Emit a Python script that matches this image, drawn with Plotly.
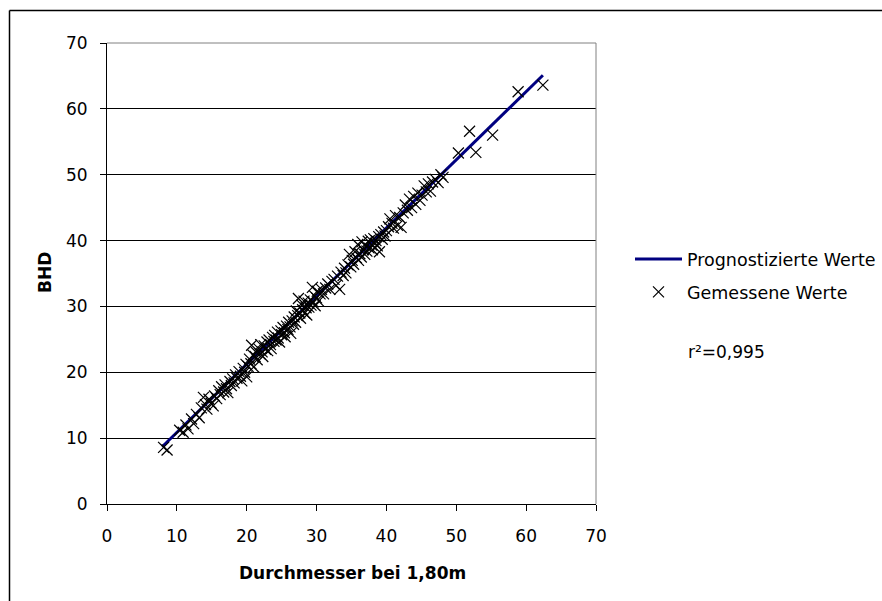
import plotly.graph_objects as go

# ---------------- data ----------------
meas_x = [8.1, 8.6, 10.4, 10.9, 11.3, 11.6, 12.1, 12.4, 12.8, 13.2, 13.5, 13.8, 14.1, 14.3, 14.6, 14.9,
          15.2, 15.4, 15.7, 16.0,
          16.2, 16.4, 16.7, 16.9, 17.1, 17.3, 17.6, 17.8, 18.0, 18.2, 18.4, 18.6, 18.9, 19.1, 19.3, 19.5,
          19.7, 19.9, 20.0, 20.2, 20.4, 20.6, 20.7, 20.9, 21.0,
          21.2, 21.4, 21.5, 21.7, 21.9, 22.0, 22.2, 22.3, 22.5, 22.7, 22.9, 23.0, 23.2, 23.4, 23.5, 23.7,
          23.9, 24.0, 24.2, 24.4, 24.5, 24.7, 24.9, 25.0, 25.2, 25.4, 25.5, 25.7, 25.9, 26.0,
          26.2, 26.3, 26.5, 26.7, 26.8, 27.0, 27.1, 27.3, 27.4, 27.6, 27.7, 27.9, 28.0, 28.2, 28.3, 28.5,
          28.6, 28.8, 28.9, 29.1, 29.2, 29.4, 29.5, 29.7, 29.8, 30.0, 30.1, 30.3, 30.5, 30.7,
          31.0, 31.3, 31.6, 31.9, 32.2, 32.5, 32.8, 33.0, 33.3, 33.5, 33.8, 34.0, 34.2, 34.5, 34.7, 34.9,
          35.1, 35.3, 35.5, 35.7,
          35.9, 36.0, 36.2, 36.4, 36.5, 36.7, 36.9, 37.0, 37.2, 37.4, 37.5, 37.7, 37.9, 38.0, 38.2, 38.4,
          38.5, 38.7, 38.9, 39.0, 39.2, 39.4, 39.6, 39.8, 40.0,
          40.3, 40.5, 40.8, 41.0, 41.3, 41.6, 41.9, 42.1, 42.4, 42.7, 43.0, 43.3, 43.6, 43.9, 44.2, 44.5,
          44.8, 45.1, 45.4, 45.7, 46.0, 46.3, 46.6, 47.0, 47.4, 47.8, 48.1,
          50.3, 51.9, 52.8, 55.2, 58.85, 62.4]
meas_y = [8.6, 8.2, 11.2, 10.9, 12.0, 11.4, 12.9, 12.2, 13.6, 13.1, 14.6, 16.2, 15.1, 14.4, 15.9, 15.3,
          14.9, 16.4, 16.0, 17.2,
          16.6, 17.8, 17.0, 18.1, 17.5, 16.9, 18.6, 18.0, 19.0, 18.4, 19.6, 19.1, 20.1, 19.4, 18.7, 20.6,
          20.0, 21.2, 19.3, 20.9, 22.0, 21.3, 24.1, 22.6, 20.8,
          22.4, 23.0, 21.9, 23.6, 22.8, 24.2, 23.1, 22.4, 24.0, 23.5, 24.6, 23.3, 24.9, 24.2, 23.6, 25.3,
          24.7, 25.6, 24.9, 26.1, 25.2, 24.6, 26.3, 25.7, 26.8, 26.0, 25.4, 27.0, 26.5, 27.6,
          26.9, 25.9, 27.8, 27.3, 28.4, 27.6, 29.3, 28.6, 31.2, 29.0, 28.2, 30.2, 29.5, 30.8, 29.0, 29.8,
          28.7, 30.5, 29.9, 31.0, 30.2, 32.9, 30.7, 31.6, 30.1, 31.3, 32.3, 30.8, 31.9, 32.6,
          31.9, 32.8, 33.4, 32.6, 33.8, 34.1, 33.2, 34.6, 32.6, 35.2, 34.7, 35.8, 35.1, 36.3, 37.9, 36.0,
          37.0, 36.4, 38.3, 37.4,
          39.4, 37.0, 38.0, 37.5, 39.8, 38.6, 37.9, 39.2, 38.4, 39.9, 38.9, 40.1, 39.3, 38.6, 40.3, 39.6,
          40.0, 39.2, 40.6, 38.3, 40.9, 40.2, 41.3, 40.7, 41.5,
          42.1, 43.3, 42.6, 41.9, 43.8, 42.3, 43.5, 42.0, 44.2, 45.4, 44.6, 46.3, 45.0, 46.7, 45.5, 47.2,
          46.1, 46.9, 48.3, 47.4, 48.6, 47.5, 48.9, 49.3, 48.8, 50.0, 49.6,
          53.3, 56.6, 53.4, 56.0, 62.6, 63.6]

line_x = [7.9, 62.4]
line_y = [8.7, 65.1]

tick_vals = [0, 10, 20, 30, 40, 50, 60, 70]
x_title = "Durchmesser bei 1,80m"
y_title = "BHD"
name_line = "Prognostizierte Werte"
name_meas = "Gemessene Werte"
r2_text = "r²=0,995"

# ---------------- layout geometry ----------------
W, H = 882, 601
L, R, T, B = 107, 286, 43, 97
PW, PH = W - L - R, H - T - B


def px2x(px):
    return (px - L) / PW


def py2y(py):
    return (H - B - py) / PH


FONT = "DejaVu Sans"

fig = go.Figure()
fig.add_trace(go.Scatter(
    x=line_x, y=line_y, mode="lines", name=name_line,
    line=dict(color="#000080", width=3), legend="legend"))
fig.add_trace(go.Scatter(
    x=meas_x, y=meas_y, mode="markers", name=name_meas,
    marker=dict(symbol="x-thin-open", size=11, color="black",
                line=dict(color="black", width=1.2)),
    legend="legend2"))

shapes = [
    # plot area border (top / right) in gray
    dict(type="line", xref="paper", yref="paper", x0=0, x1=1, y0=1, y1=1,
         line=dict(color="#808080", width=1)),
    dict(type="line", xref="paper", yref="paper", x0=1, x1=1, y0=0, y1=1,
         line=dict(color="#808080", width=1)),
    # chart area border (left / top)
    dict(type="line", xref="paper", yref="paper", x0=px2x(9.5), x1=px2x(900),
         y0=py2y(10.5), y1=py2y(10.5), line=dict(color="black", width=1.5)),
    dict(type="line", xref="paper", yref="paper", x0=px2x(9.5), x1=px2x(9.5),
         y0=py2y(10.5), y1=py2y(620), line=dict(color="black", width=1.5)),
]

annotations = [
    dict(text=f"<b>{x_title}</b>", xref="paper", yref="paper", x=px2x(352), y=py2y(573),
         showarrow=False, font=dict(family=FONT, size=17, color="black"),
         xanchor="center", yanchor="middle"),
    dict(text=f"<b>{y_title}</b>", xref="paper", yref="paper", x=px2x(45), y=py2y(273),
         showarrow=False, textangle=-90, font=dict(family=FONT, size=17, color="black"),
         xanchor="center", yanchor="middle"),
    dict(text=r2_text, xref="paper", yref="paper", x=px2x(686), y=py2y(352),
         showarrow=False, font=dict(family=FONT, size=17, color="black"),
         xanchor="left", yanchor="middle"),
]

axis_common = dict(
    range=[0, 70], tickvals=tick_vals, ticks="outside", ticklen=6, tickcolor="black",
    tickwidth=1, showline=True, linecolor="black", linewidth=1, zeroline=False,
    tickfont=dict(family=FONT, size=17, color="black"), fixedrange=True,
)

legend_common = dict(xanchor="left", yanchor="middle", xref="container", yref="container",
                     bgcolor="rgba(0,0,0,0)", font=dict(family=FONT, size=17.5, color="black"),
                     itemwidth=47, borderwidth=0)

fig.update_layout(
    width=W, height=H,
    margin=dict(l=L, r=R, t=T, b=B, pad=0),
    paper_bgcolor="white", plot_bgcolor="white",
    font=dict(family=FONT, size=17, color="black"),
    xaxis=dict(**axis_common, showgrid=False, ticklabelstandoff=11),
    yaxis=dict(**axis_common, showgrid=True, gridcolor="black", gridwidth=1,
               ticklabelstandoff=9),
    legend=dict(x=630 / W, y=1 - 259 / H, **legend_common),
    legend2=dict(x=630 / W, y=1 - 292 / H, **legend_common),
    shapes=shapes,
    annotations=annotations,
    showlegend=True,
)

fig.write_html("out.html")
